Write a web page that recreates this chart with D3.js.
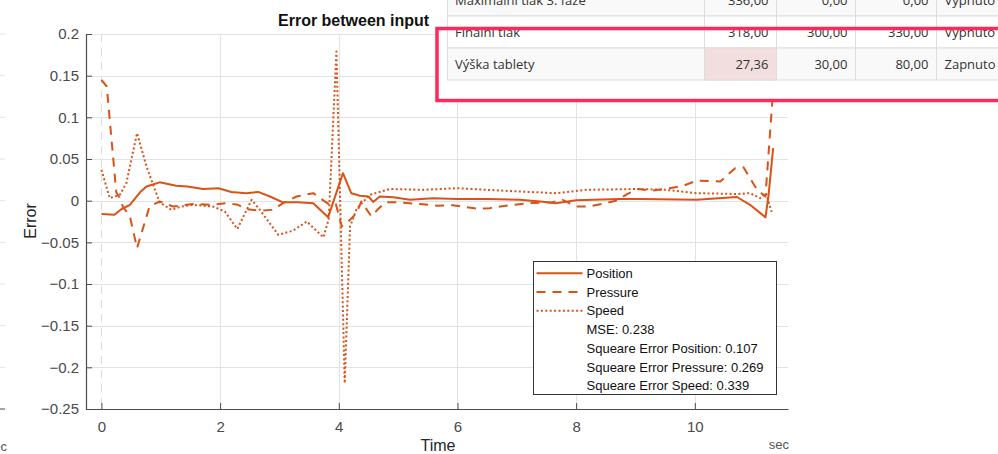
<!DOCTYPE html>
<html>
<head>
<meta charset="utf-8">
<script src="https://cdn.jsdelivr.net/npm/d3@7"></script>
<style>
  body { margin: 0; background: #fff; }
  svg { display: block; }
</style>
</head>
<body>
<svg id="main-svg" width="998" height="454"></svg>
<script>
// --- data ---
var posTime  = [0, 0.22, 0.34, 0.48, 0.65, 0.76, 0.98, 1.26, 1.45, 1.71, 1.97, 2.19, 2.44, 2.64, 2.84, 3.06, 3.3, 3.57, 3.82, 4.07, 4.21, 4.36, 4.5, 4.58, 4.69, 4.92, 5.2, 5.59, 6.0, 6.5, 7.04, 7.4, 7.66, 8.0, 8.73, 9.08, 10.03, 10.71, 10.93, 11.19, 11.24, 11.32]
var position = [-0.016, -0.017, -0.010, -0.005, 0.010, 0.017, 0.022, 0.018, 0.017, 0.014, 0.015, 0.0105, 0.009, 0.0105, 0.005, -0.002, -0.002, -0.003, -0.020, 0.033, 0.009, 0.006, 0.005, -0.0015, 0.005, 0.004, 0.001, 0.003, 0.002, 0.002, 0.001, -0.001, -0.003, 0.0005, 0.002, 0.002, 0.001, 0.0044, -0.005, -0.020, 0.005, 0.063]

var pressTime = [0, 0.09, 0.25, 0.30, 0.36, 0.48, 0.60, 0.81, 0.98, 1.21, 1.54, 1.85, 2.1, 2.3, 2.44, 2.67, 2.89, 3.06, 3.29, 3.57, 3.68, 3.85, 3.95, 4.05, 4.16, 4.30, 4.38, 4.55, 4.65, 4.78, 5.0, 5.37, 5.65, 5.92, 6.32, 6.54, 6.93, 7.21, 7.6, 7.77, 8.0, 8.22, 8.5, 8.67, 8.89, 9.06, 9.28, 9.58, 9.81, 10.03, 10.43, 10.68, 10.82, 11.05, 11.19, 11.21, 11.3, 11.36]
var pressure  = [0.145, 0.137, 0.010, 0.004, -0.007, -0.019, -0.057, -0.007, -0.001, -0.007, -0.004, -0.005, -0.003, -0.005, -0.010, -0.012, -0.011, -0.003, 0.005, 0.009, 0.003, -0.005, -0.004, -0.031, -0.025, -0.015, -0.001, -0.019, -0.011, -0.002, -0.002, -0.004, -0.006, -0.0056, -0.0096, -0.009, -0.005, -0.003, -0.002, 0.001, -0.007, -0.007, -0.003, 0.0, 0.009, 0.014, 0.012, 0.015, 0.018, 0.024, 0.023, 0.039, 0.040, 0.013, 0.005, 0.025, 0.113, 0.17]

var speedTime = [0, 0.14, 0.31, 0.42, 0.60, 0.76, 0.98, 1.18, 1.35, 1.54, 1.88, 2.08, 2.29, 2.53, 2.67, 2.98, 3.23, 3.46, 3.74, 3.83, 3.96, 4.10, 4.19, 4.30, 4.52, 4.86, 5.42, 6.0, 6.5, 7.04, 7.66, 8.17, 9.01, 9.5, 10.03, 10.71, 10.93, 11.1, 11.2, 11.3]
var speed     = [0.037, 0.003, 0.007, 0.021, 0.081, 0.041, -0.002, -0.011, -0.007, -0.005, -0.007, -0.013, -0.034, 0.001, -0.011, -0.041, -0.036, -0.025, -0.044, -0.022, 0.179, -0.219, -0.031, -0.010, 0.007, 0.014, 0.013, 0.015, 0.013, 0.011, 0.009, 0.013, 0.014, 0.013, 0.009, 0.008, 0.009, 0.003, 0.009, -0.015]

var xTicks = [0, 2, 4, 6, 8, 10]
var yTicks = [-0.25, -0.2, -0.15, -0.1, -0.05, 0, 0.05, 0.1, 0.15, 0.2]
var legendLabels = ['Position', 'Pressure', 'Speed', 'MSE: 0.238', 'Squeare Error Position: 0.107', 'Squeare Error Pressure: 0.269', 'Squeare Error Speed: 0.339']
var legendDash = ['none', '9,7', '2,2.4']

// table overlay (screenshot pasted on top of the figure)
var tableLabels = ['Maximální tlak 3. fáze', 'Finální tlak', 'Výška tablety']
var tableValues = [['336,00', '0,00', '0,00'], ['318,00', '300,00', '330,00'], ['27,36', '30,00', '80,00']]
var tableState  = ['Vypnuto', 'Vypnuto', 'Zapnuto']

var orange = '#D95319'
var axisCol = '#4d4d4d'
var gridCol = '#e3e3e3'
var font = '"Liberation Sans", Arial, sans-serif'

var svg = d3.select('#main-svg')

var x = d3.scaleLinear().domain([-0.26, 11.57]).range([86, 788])
var y = d3.scaleLinear().domain([-0.25, 0.2]).range([409, 34])

// bits of the neighbouring figure at the far left
var left = svg.append('g')
yTicks.forEach(function(v) {
    left.append('line')
        .attr('x1', 0).attr('x2', 5)
        .attr('y1', y(v)).attr('y2', y(v))
        .attr('stroke', v == -0.25 ? axisCol : gridCol)
        .attr('stroke-width', 1)
})
left.append('text').attr('x', 7).attr('y', 451).attr('text-anchor', 'end')
    .attr('font-family', font).attr('font-size', 13).attr('fill', '#555').text('sec')

// grid
var grid = svg.append('g')
yTicks.forEach(function(v) {
    grid.append('line')
        .attr('x1', x.range()[0]).attr('x2', x.range()[1])
        .attr('y1', Math.round(y(v)) + 0.5).attr('y2', Math.round(y(v)) + 0.5)
        .attr('stroke', gridCol)
})
xTicks.forEach(function(t) {
    grid.append('line')
        .attr('x1', Math.round(x(t)) + 0.5).attr('x2', Math.round(x(t)) + 0.5)
        .attr('y1', y.range()[1]).attr('y2', y.range()[0])
        .attr('stroke', t == 0 ? '#dcdcdc' : gridCol)
        .attr('stroke-dasharray', t == 0 ? '8,6' : null)
})

// axes
var xAxis = d3.axisBottom(x).tickValues(xTicks).tickSizeInner(-6).tickSizeOuter(0).tickPadding(12)
var yAxis = d3.axisLeft(y).tickValues(yTicks).tickSizeInner(-6).tickSizeOuter(0).tickPadding(12)
    .tickFormat(function(d) { return d3.format('')(+d.toFixed(2)) })

var gx = svg.append('g').attr('transform', 'translate(0,409)').call(xAxis)
var gy = svg.append('g').attr('transform', 'translate(86,0)').call(yAxis)
;[gx, gy].forEach(function(g) {
    g.select('.domain').attr('stroke', axisCol).attr('stroke-width', 1.2)
    g.selectAll('.tick line').attr('stroke', axisCol)
    g.selectAll('.tick text').attr('font-family', font).attr('font-size', 15).attr('fill', '#4a4a4a')
})
gy.selectAll('.tick text').attr('x', -7)

svg.append('text').attr('x', 438).attr('y', 451).attr('text-anchor', 'middle')
    .attr('font-family', font).attr('font-size', 16).attr('fill', '#262626').text('Time')
svg.append('text').attr('transform', 'translate(36,221) rotate(-90)').attr('text-anchor', 'middle')
    .attr('font-family', font).attr('font-size', 16).attr('fill', '#262626').text('Error')
svg.append('text').attr('x', 789).attr('y', 449).attr('text-anchor', 'end')
    .attr('font-family', font).attr('font-size', 13).attr('fill', '#555').text('sec')

// series
var line = d3.line().x(function(d) { return x(d[0]) }).y(function(d) { return y(d[1]) })
var series = [
    { t: posTime, v: position, dash: legendDash[0] },
    { t: pressTime, v: pressure, dash: legendDash[1] },
    { t: speedTime, v: speed, dash: legendDash[2] }
]
series.forEach(function(s) {
    svg.append('path')
        .datum(d3.zip(s.t, s.v))
        .attr('d', line)
        .attr('fill', 'none')
        .attr('stroke', orange)
        .attr('stroke-width', 2)
        .attr('stroke-linejoin', 'round')
        .attr('stroke-dasharray', s.dash == 'none' ? null : s.dash)
})

// legend
var lg = svg.append('g')
lg.append('rect').attr('x', 533.5).attr('y', 261.5).attr('width', 243).attr('height', 133)
    .attr('fill', '#fff').attr('stroke', '#333').attr('stroke-width', 1)
legendLabels.forEach(function(lab, i) {
    var ly = 273.3 + i * 18.75
    if (i < 3) {
        lg.append('line').attr('x1', 536.5).attr('x2', 582.5).attr('y1', ly).attr('y2', ly)
            .attr('stroke', orange).attr('stroke-width', 2)
            .attr('stroke-dasharray', legendDash[i] == 'none' ? null : legendDash[i])
    }
    lg.append('text').attr('x', 586.5).attr('y', ly + 4.6)
        .attr('font-family', font).attr('font-size', 13).attr('fill', '#111').text(lab)
})

// title
svg.append('text').attr('x', 278).attr('y', 26)
    .attr('font-family', font).attr('font-size', 16).attr('font-weight', 'bold')
    .attr('fill', '#111').text('Error between input')

// pasted table screenshot
var ov = svg.append('g')
ov.append('rect').attr('x', 436).attr('y', 0).attr('width', 562).attr('height', 102).attr('fill', '#fff')
var cols = [447.5, 704.5, 776.5, 855.5, 936.5, 1010]
var rowTop = [-16, 16, 48]
var rowH = 32
tableLabels.forEach(function(lab, r) {
    var ty = rowTop[r]
    ov.append('rect').attr('x', cols[0]).attr('y', ty).attr('width', cols[5] - cols[0]).attr('height', rowH)
        .attr('fill', r == 1 ? '#fff' : '#f9f9f9').attr('stroke', '#ddd')
    if (r == 2) {
        ov.append('rect').attr('x', cols[1]).attr('y', ty).attr('width', cols[2] - cols[1]).attr('height', rowH)
            .attr('fill', '#f2dede').attr('stroke', '#ddd')
    }
    for (var c = 1; c < 5; c++) {
        ov.append('line').attr('x1', cols[c]).attr('x2', cols[c]).attr('y1', ty).attr('y2', ty + rowH).attr('stroke', '#ddd')
    }
    var base = ty + 20.5
    var tf = '"Open Sans", "Noto Sans", sans-serif'
    ov.append('text').attr('x', 455).attr('y', base).attr('font-family', tf).attr('font-size', 13).attr('fill', '#333').text(lab)
    tableValues[r].forEach(function(val, c) {
        ov.append('text').attr('x', cols[c + 2] - 8).attr('y', base).attr('text-anchor', 'end')
            .attr('font-family', tf).attr('font-size', 13).attr('fill', '#333').text(val)
    })
    ov.append('text').attr('x', cols[4] + 8).attr('y', base).attr('font-family', tf).attr('font-size', 13).attr('fill', '#333').text(tableState[r])
})
// highlight box
ov.append('rect').attr('x', 437).attr('y', 28.5).attr('width', 600).attr('height', 72)
    .attr('fill', 'none').attr('stroke', '#fa2a5a').attr('stroke-width', 3.5)
</script>
</body>
</html>
